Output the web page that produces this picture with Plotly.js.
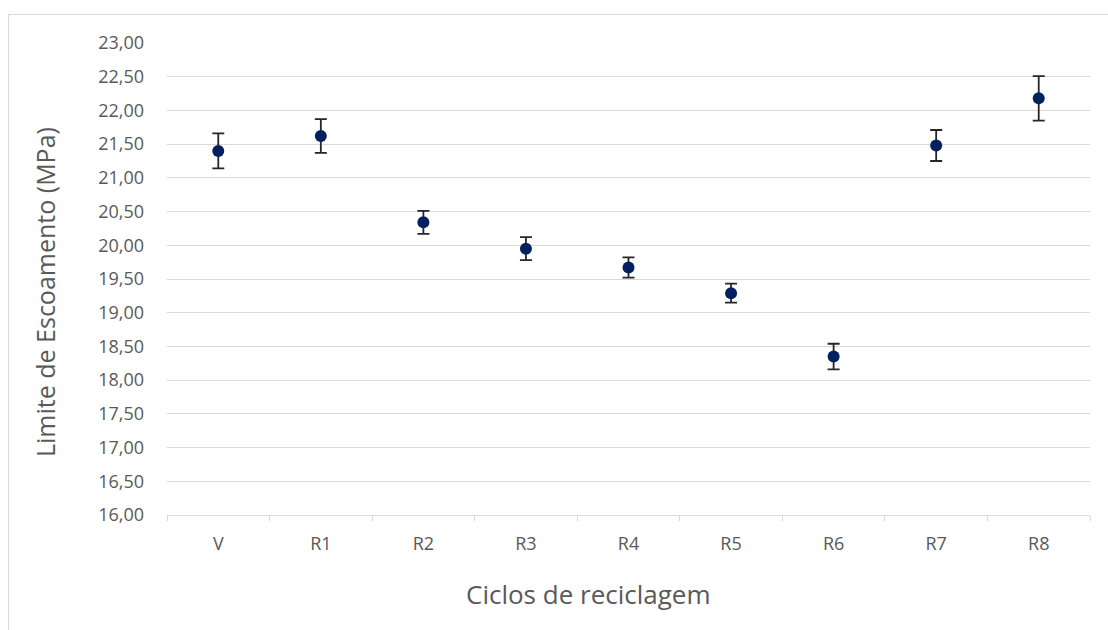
<!DOCTYPE html>
<html>
<head>
<meta charset="utf-8">
<script src="https://cdn.plot.ly/plotly-3.0.1.min.js"></script>
<style>
  html, body { margin: 0; padding: 0; background: #ffffff; }
  #wrap { position: relative; width: 1108px; height: 630px; overflow: hidden; }
  #chart { width: 1108px; height: 630px; }
  #frame { position: absolute; left: 8px; top: 14px; width: 1200px; height: 700px;
           border: 1px solid #d9d9d9; pointer-events: none; box-sizing: border-box; }
</style>
</head>
<body>
<div id="wrap">
  <div id="chart"></div>
  <div id="frame"></div>
</div>
<script>
const categories = ["V", "R1", "R2", "R3", "R4", "R5", "R6", "R7", "R8"];
const yieldStrength = [21.40, 21.62, 20.34, 19.95, 19.67, 19.29, 18.35, 21.48, 22.18];
const errorValues = [0.26, 0.25, 0.17, 0.17, 0.15, 0.14, 0.19, 0.23, 0.33];

const fontFamily = "Open Sans, Liberation Sans, sans-serif";
const grey = "#595959";

const trace = {
  type: "scatter",
  mode: "markers",
  x: categories,
  y: yieldStrength,
  marker: { color: "#002060", size: 12 },
  error_y: { type: "data", array: errorValues, visible: true, color: "#262626", thickness: 1.8, width: 6 },
  hoverinfo: "x+y"
};

const layout = {
  width: 1108,
  height: 630,
  margin: { l: 167, r: 18, t: 43, b: 115 },
  paper_bgcolor: "#ffffff",
  plot_bgcolor: "#ffffff",
  separators: ",.",
  showlegend: false,
  font: { family: fontFamily, color: grey },
  xaxis: {
    type: "category",
    range: [-0.5, 8.5],
    tickson: "boundaries",
    ticks: "outside",
    ticklen: 5,
    tickcolor: "#d9d9d9",
    showgrid: false,
    showline: true,
    linecolor: "#d9d9d9",
    linewidth: 1,
    ticklabelstandoff: 12,
    tickfont: { size: 18, color: grey, family: fontFamily },
    zeroline: false
  },
  yaxis: {
    range: [16, 23],
    dtick: 0.5,
    tick0: 16,
    tickformat: ".2f",
    showgrid: true,
    gridcolor: "#d9d9d9",
    gridwidth: 1,
    zeroline: false,
    showline: false,
    ticks: "",
    ticklabelstandoff: 22,
    tickfont: { size: 18, color: grey, family: fontFamily }
  },
  annotations: [
    {
      text: "Ciclos de reciclagem",
      xref: "paper", yref: "paper",
      x: (588 - 167) / (1090 - 167), y: -(594 - 515) / (515 - 43),
      xanchor: "center", yanchor: "middle",
      showarrow: false,
      font: { size: 26, color: grey, family: fontFamily }
    },
    {
      text: "Limite de Escoamento (MPa)",
      xref: "paper", yref: "paper",
      x: -(167 - 45) / (1090 - 167), y: 1 - (292 - 43) / (515 - 43),
      xanchor: "center", yanchor: "middle",
      textangle: -90,
      showarrow: false,
      font: { size: 25, color: grey, family: fontFamily }
    }
  ]
};

Plotly.newPlot("chart", [trace], layout, { displayModeBar: false, staticPlot: true });
</script>
</body>
</html>
